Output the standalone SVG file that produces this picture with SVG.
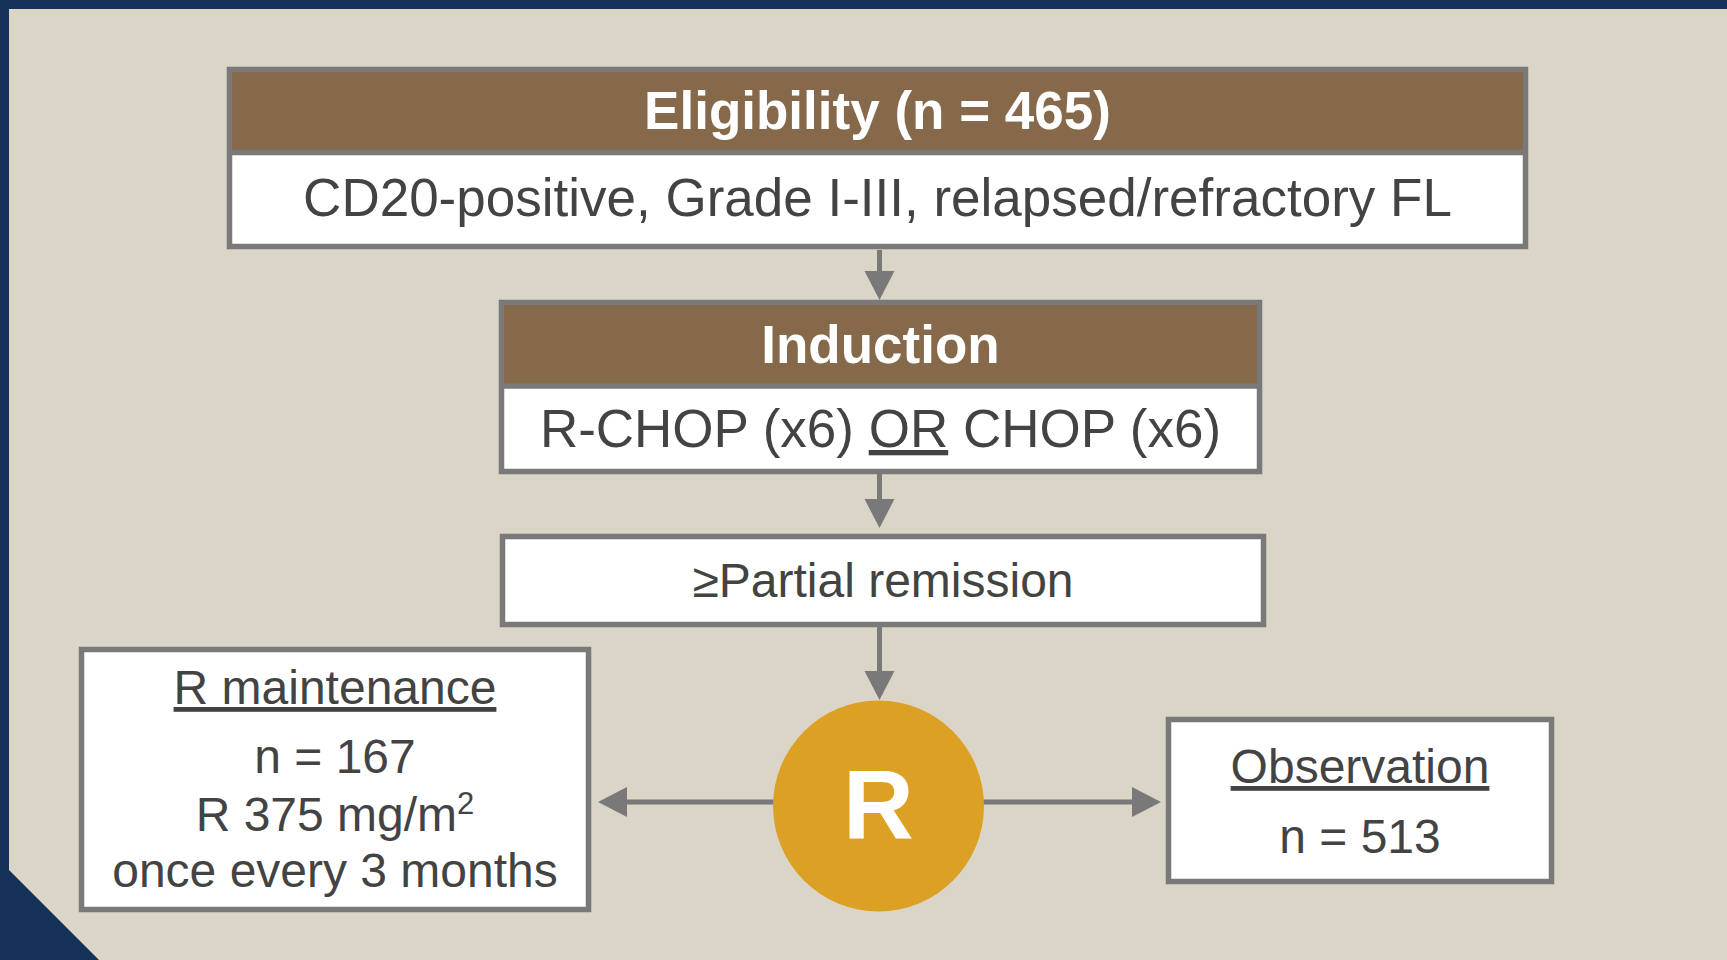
<svg xmlns="http://www.w3.org/2000/svg" width="1727" height="960" viewBox="0 0 1727 960">
<defs>
<style>
.box{fill:#ffffff;stroke:#787978;stroke-width:5.5}
.hdr{fill:#85694A}
.div{stroke:#787978;stroke-width:5.5}
.conn{stroke:#787978;stroke-width:5;fill:none}
.t{font-family:"Liberation Sans",Arial,sans-serif;fill:#434343;text-anchor:middle}
.tb{font-family:"Liberation Sans",Arial,sans-serif;fill:#ffffff;font-weight:bold;text-anchor:middle}
.u{text-decoration:underline}
</style>
<marker id="ah" markerUnits="userSpaceOnUse" markerWidth="30" markerHeight="31" refX="0" refY="15" orient="auto" viewBox="0 0 30 30">
<path d="M0,0 L29,15 L0,30 Z" fill="#787978"/>
</marker>
</defs>
<rect x="0" y="0" width="1727" height="960" fill="#DBD5C8"/>
<rect x="0" y="0" width="1727" height="9" fill="#15325B"/>
<rect x="0" y="0" width="9" height="960" fill="#15325B"/>
<polygon points="0,861 99,960 0,960" fill="#15325B"/>

<g id="connectors">
<line class="conn" x1="879.5" y1="250" x2="879.5" y2="271" marker-end="url(#ah)"/>
<line class="conn" x1="879.5" y1="474" x2="879.5" y2="499" marker-end="url(#ah)"/>
<line class="conn" x1="879.5" y1="627" x2="879.5" y2="671" marker-end="url(#ah)"/>
<line class="conn" x1="775" y1="802" x2="627" y2="802" marker-end="url(#ah)"/>
<line class="conn" x1="982" y1="802" x2="1132" y2="802" marker-end="url(#ah)"/>
</g>

<g id="eligibility">
<rect class="box" x="229.5" y="69.5" width="1296" height="177"/>
<rect class="hdr" x="232" y="72" width="1291" height="80"/>
<line class="div" x1="229.5" y1="152.5" x2="1525.5" y2="152.5"/>
<text class="tb" x="877.5" y="129" font-size="53">Eligibility (n = 465)</text>
<text class="t" x="877.5" y="216" font-size="53">CD20-positive, Grade I-III, relapsed/refractory FL</text>
</g>

<g id="induction">
<rect class="box" x="501.5" y="302.5" width="758" height="169"/>
<rect class="hdr" x="504" y="305" width="753" height="81"/>
<line class="div" x1="501.5" y1="386" x2="1259.5" y2="386"/>
<text class="tb" x="880.5" y="363" font-size="53">Induction</text>
<text class="t" x="880.5" y="447" font-size="53">R-CHOP (x6) <tspan class="u">OR</tspan> CHOP (x6)</text>
</g>

<g id="partial-remission">
<rect class="box" x="502.5" y="536.5" width="761" height="88"/>
<text class="t" x="883" y="597" font-size="48">≥Partial remission</text>
</g>

<g id="randomization">
<circle cx="878.5" cy="806" r="105.5" fill="#DCA124"/>
<text class="tb" x="878.5" y="839" font-size="98">R</text>
</g>

<g id="r-maintenance">
<rect class="box" x="81.5" y="649.5" width="507" height="260"/>
<text class="t u" x="335" y="704" font-size="48">R maintenance</text>
<text class="t" x="335" y="773" font-size="48">n = 167</text>
<text class="t" x="335" y="831" font-size="48">R 375 mg/m<tspan font-size="31" dy="-17">2</tspan></text>
<text class="t" x="335" y="887" font-size="48">once every 3 months</text>
</g>

<g id="observation">
<rect class="box" x="1168.5" y="719.5" width="383" height="162"/>
<text class="t u" x="1360" y="783" font-size="48">Observation</text>
<text class="t" x="1360" y="853" font-size="48">n = 513</text>
</g>
</svg>
